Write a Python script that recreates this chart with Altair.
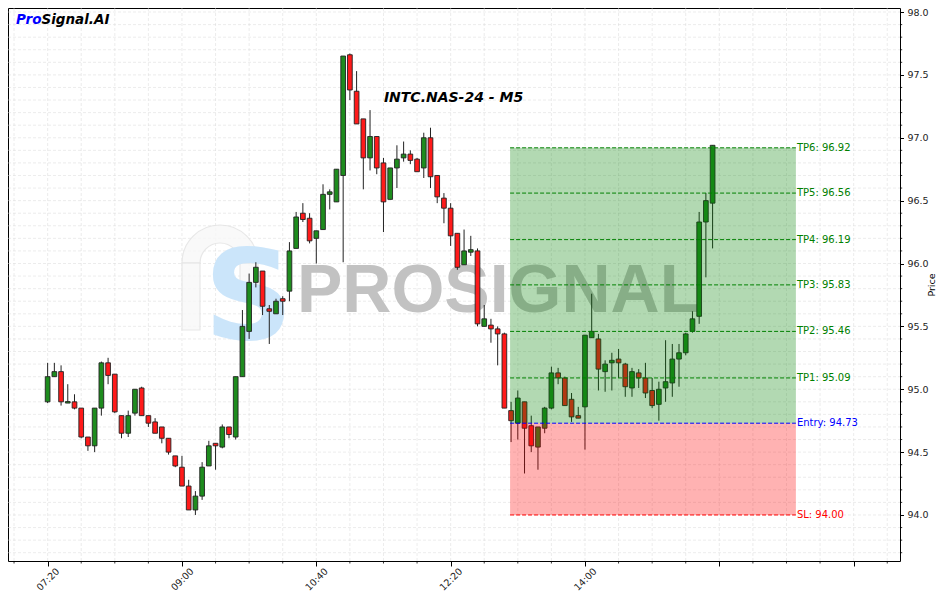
import json
import math
import altair as alt
import pandas as pd

# ---------------- data ----------------
opens = [94.90, 95.10, 95.14, 94.89, 94.90, 94.85, 94.62, 94.55, 94.85, 95.21,
         95.12, 94.79, 94.65, 94.81, 95.01, 94.79, 94.74, 94.70, 94.61, 94.47,
         94.38, 94.23, 94.04, 94.15, 94.39, 94.57, 94.54, 94.70, 94.62, 95.10,
         95.46, 95.85, 95.94, 95.64, 95.60, 95.72, 95.78, 96.12, 96.40, 96.36,
         96.20, 96.27, 96.55, 96.49, 96.70, 97.66, 97.37, 97.15, 96.84, 97.01,
         96.80, 96.51, 96.76, 96.84, 96.87, 96.83, 96.76, 97.00, 96.70, 96.52,
         96.44, 96.24, 95.99, 96.09, 96.10, 95.50, 95.51, 95.48, 95.44, 94.83,
         94.73, 94.90, 94.71, 94.54, 94.69, 94.85, 95.13, 95.09, 94.92, 94.79,
         94.86, 95.41, 95.40, 95.14, 95.21, 95.24, 95.20, 95.01, 95.13, 95.09,
         94.99, 94.88, 95.01, 95.05, 95.24, 95.29, 95.46, 95.58, 96.33, 96.48]
highs = [95.21, 95.21, 95.19, 95.04, 94.96, 94.85, 94.62, 94.85, 95.22, 95.25,
         95.12, 94.79, 94.83, 95.00, 95.02, 94.79, 94.77, 94.70, 94.61, 94.47,
         94.47, 94.28, 94.19, 94.42, 94.59, 94.57, 94.72, 94.70, 95.10, 95.63,
         95.92, 96.01, 95.94, 95.67, 95.72, 95.74, 96.17, 96.41, 96.48, 96.40,
         96.26, 96.63, 96.59, 96.75, 97.65, 97.67, 97.53, 97.15, 97.22, 97.01,
         96.84, 96.76, 96.94, 96.97, 96.90, 96.84, 97.04, 97.08, 96.70, 96.56,
         96.48, 96.24, 96.27, 96.22, 96.12, 95.67, 95.56, 95.50, 95.45, 94.90,
         94.99, 94.90, 94.79, 94.70, 94.86, 95.18, 95.17, 95.10, 94.97, 94.86,
         95.43, 95.76, 95.44, 95.23, 95.29, 95.32, 95.21, 95.17, 95.16, 95.21,
         95.09, 95.06, 95.39, 95.36, 95.36, 95.45, 95.62, 96.41, 96.56, 96.94]
lows = [94.89, 95.10, 94.87, 94.89, 94.84, 94.61, 94.51, 94.50, 94.79, 95.04,
        94.81, 94.61, 94.62, 94.79, 94.79, 94.70, 94.65, 94.57, 94.48, 94.38,
        94.23, 94.04, 94.00, 94.12, 94.39, 94.36, 94.53, 94.61, 94.60, 95.10,
        95.40, 95.81, 95.59, 95.36, 95.60, 95.59, 95.70, 96.12, 96.33, 96.16,
        96.00, 96.27, 96.43, 96.49, 96.01, 97.30, 97.11, 96.59, 96.74, 96.71,
        96.25, 96.51, 96.60, 96.81, 96.79, 96.73, 96.68, 96.60, 96.48, 96.32,
        96.14, 95.95, 95.99, 96.06, 95.50, 95.50, 95.37, 95.19, 94.85, 94.58,
        94.60, 94.33, 94.50, 94.36, 94.65, 94.84, 95.04, 94.87, 94.74, 94.77,
        94.52, 95.41, 94.99, 94.98, 94.99, 95.09, 94.94, 94.94, 95.01, 94.93,
        94.85, 94.75, 94.90, 94.94, 95.02, 95.27, 95.45, 95.52, 95.89, 96.12]
closes = [95.10, 95.14, 94.90, 94.90, 94.85, 94.62, 94.55, 94.85, 95.21, 95.11,
          94.82, 94.65, 94.79, 95.00, 94.79, 94.73, 94.65, 94.61, 94.50, 94.39,
          94.23, 94.04, 94.15, 94.38, 94.55, 94.55, 94.70, 94.64, 95.10, 95.50,
          95.85, 95.97, 95.66, 95.62, 95.70, 95.70, 96.10, 96.37, 96.35, 96.18,
          96.26, 96.55, 96.57, 96.75, 97.65, 97.38, 97.11, 96.84, 97.01, 96.76,
          96.49, 96.76, 96.83, 96.87, 96.82, 96.73, 97.00, 96.69, 96.53, 96.44,
          96.22, 95.97, 96.10, 96.11, 95.52, 95.56, 95.48, 95.44, 94.85, 94.75,
          94.93, 94.69, 94.55, 94.70, 94.85, 95.13, 95.09, 94.87, 94.78, 94.77,
          95.43, 95.46, 95.16, 95.20, 95.23, 95.21, 95.02, 95.14, 95.09, 94.97,
          94.87, 95.00, 95.06, 95.24, 95.29, 95.44, 95.56, 96.33, 96.50, 96.94]

x_tick_values = [0, 20, 40, 60, 80, 100, 120]
x_tick_labels = ["07:20", "09:00", "10:40", "12:20", "14:00", "", ""]
y_tick_values = [94.0, 94.5, 95.0, 95.5, 96.0, 96.5, 97.0, 97.5, 98.0]

level_names = ["TP6", "TP5", "TP4", "TP3", "TP2", "TP1", "Entry", "SL"]
level_prices = [96.92, 96.56, 96.19, 95.83, 95.46, 95.09, 94.73, 94.00]
level_colors = ["#008000", "#008000", "#008000", "#008000", "#008000", "#008000",
                "#0000ff", "#ff0000"]

zone_start = 68.85
zone_end = 111.4
entry_price = 94.73
tp_top = 96.92
sl_price = 94.00

x_domain = [-5.9, 126.9]
y_domain = [93.634, 98.032]

W, H = 892, 553
FONT = "DejaVu Sans"

# ---------------- tables ----------------
candles = pd.DataFrame({
    "idx": list(range(len(opens))),
    "open": opens, "high": highs, "low": lows, "close": closes,
})
candles["dir"] = ["up" if c >= o else "down" for o, c in zip(opens, closes)]

xs = alt.Scale(domain=x_domain, nice=False, zero=False)
ys = alt.Scale(domain=y_domain, nice=False, zero=False)

minor_x = [v for v in range(-5, 130, 5)]
minor_y = [round(93.7 + 0.1 * k, 1) for k in range(44)]

label_expr = "%s[round(datum.value/20)]" % json.dumps(x_tick_labels)

x_axis = alt.Axis(values=x_tick_values, labelExpr=label_expr, labelAngle=315,
                  labelAlign="center", labelBaseline="middle", labelPadding=13,
                  tickSize=5, grid=False, title=None, domain=False,
                  labelFontSize=9.5, labelFont=FONT, labelColor="#222", tickColor="#000")
y_axis = alt.Axis(values=y_tick_values, orient="right", format=".1f",
                  tickSize=3.5, labelPadding=3.5, grid=False, domain=False,
                  title="Price", titleAngle=270, titleFontSize=9.5,
                  titleFontWeight="normal", titleFont=FONT, titlePadding=8, titleColor="#000",
                  labelFontSize=9.5, labelFont=FONT, labelColor="#222", tickColor="#000")

grid_x = pd.DataFrame({"gx": minor_x, "gyref": [y_domain[0]] * len(minor_x), "gyref2": [y_domain[1]] * len(minor_x)})
grid_y = pd.DataFrame({"gy": minor_y, "gxref": [x_domain[0]] * len(minor_y), "gxref2": [x_domain[1]] * len(minor_y)})

gridx = alt.Chart(grid_x).mark_rule(color="#d8d8d8", strokeWidth=0.7, strokeDash=[3, 2], opacity=0.7).encode(
    x=alt.X("gx:Q", scale=xs, axis=x_axis),
    y=alt.Y("gyref:Q", scale=ys, axis=y_axis), y2="gyref2:Q",
)
gridy = alt.Chart(grid_y).mark_rule(color="#d8d8d8", strokeWidth=0.7, strokeDash=[3, 2], opacity=0.7).encode(
    y=alt.Y("gy:Q", scale=ys), x=alt.X("gxref:Q", scale=xs), x2="gxref2:Q",
)

# minor ticks outside the plot
minor_xt = alt.Chart(pd.DataFrame({"mx": [v for v in minor_x if v % 20 != 0]})).mark_rule(
    color="#000", strokeWidth=0.8).encode(
    x=alt.X("mx:Q", scale=xs), y=alt.value(H), y2=alt.value(H + 2.5))
minor_yt = alt.Chart(pd.DataFrame({"my": [v for v in minor_y if round(v * 10) % 5 != 0]})).mark_rule(
    color="#000", strokeWidth=0.8).encode(
    y=alt.Y("my:Q", scale=ys), x=alt.value(W), x2=alt.value(W + 2.2))

# watermark (logo arch + S + word)
one = pd.DataFrame({"k": [1]})
arch_style = dict(fill="#f8f8f8", stroke="#e4e4e4", strokeWidth=1.2, opacity=0.85)
wm_arch = alt.Chart(one).mark_arc(radius=38, radius2=20, theta=1.5 * math.pi, theta2=2.5 * math.pi,
                                  **arch_style).encode(x=alt.value(212), y=alt.value(255))
wm_leg_l = alt.Chart(one).mark_rect(**arch_style).encode(
    x=alt.value(174), x2=alt.value(192), y=alt.value(255), y2=alt.value(322))
wm_leg_r = alt.Chart(one).mark_rect(**arch_style).encode(
    x=alt.value(232), x2=alt.value(250), y=alt.value(255), y2=alt.value(285))
wm_logo = alt.Chart(pd.DataFrame({"t": ["S"]})).mark_text(
    font=FONT, fontWeight="bold", fontSize=124, color="#cbe5fa", align="left",
    baseline="alphabetic").encode(text="t:N", x=alt.value(196), y=alt.value(331))
wm_text = alt.Chart(pd.DataFrame({"t": ["PROSIGNAL"]})).mark_text(
    font="Liberation Sans", fontWeight="bold", fontSize=68, color="#c2c2c2", align="left",
    baseline="alphabetic").encode(text="t:N", x=alt.value(289), y=alt.value(304))

# candles
wicks = alt.Chart(candles).mark_rule(color="#222", strokeWidth=1).encode(
    x=alt.X("idx:Q", scale=xs),
    y=alt.Y("low:Q", scale=ys), y2="high:Q")
bodies = alt.Chart(candles).transform_calculate(
    x1="datum.idx - 0.35", x2="datum.idx + 0.35",
    b1="min(datum.open, datum.close)", b2="max(datum.open, datum.close, min(datum.open, datum.close) + 0.012)"
).mark_rect(stroke="#222", strokeWidth=0.9).encode(
    x=alt.X("x1:Q", scale=xs), x2="x2:Q",
    y=alt.Y("b1:Q", scale=ys), y2="b2:Q",
    fill=alt.Fill("dir:N", scale=alt.Scale(domain=["up", "down"], range=["#1e8c1e", "#ff1a1a"]), legend=None))

# trade zone
zones = pd.DataFrame({
    "zx1": [zone_start, zone_start], "zx2": [zone_end, zone_end],
    "zy1": [entry_price, sl_price], "zy2": [tp_top, entry_price],
    "kind": ["profit", "loss"],
})
zone_rects = alt.Chart(zones).mark_rect(opacity=0.3).encode(
    x=alt.X("zx1:Q", scale=xs), x2="zx2:Q",
    y=alt.Y("zy1:Q", scale=ys), y2="zy2:Q",
    fill=alt.Fill("kind:N", scale=alt.Scale(domain=["profit", "loss"], range=["#008000", "#ff0000"]), legend=None))

levels = pd.DataFrame({"name": level_names, "price": level_prices,
                       "lx1": [zone_start] * len(level_names), "lx2": [zone_end] * len(level_names)})
levels["label"] = [f"{n}: {p:.2f}" for n, p in zip(level_names, level_prices)]
lcol = alt.Color("name:N", scale=alt.Scale(domain=level_names, range=level_colors), legend=None)
level_lines = alt.Chart(levels).mark_rule(strokeWidth=1, strokeDash=[4, 2]).encode(
    x=alt.X("lx1:Q", scale=xs), x2="lx2:Q",
    y=alt.Y("price:Q", scale=ys), color=lcol)
level_text = alt.Chart(levels).mark_text(align="left", baseline="middle", dx=1, fontSize=10, font=FONT).encode(
    x=alt.X("lx2:Q", scale=xs), y=alt.Y("price:Q", scale=ys),
    text="label:N", color=lcol)

# titles
title = alt.Chart(pd.DataFrame({"t": ["INTC.NAS-24 - M5"]})).mark_text(
    font=FONT, fontSize=14, fontWeight="bold", fontStyle="italic", color="#000",
    align="center", baseline="alphabetic").encode(text="t:N", x=alt.value(445.5), y=alt.value(94))
brand1 = alt.Chart(pd.DataFrame({"t": ["Pro"]})).mark_text(
    font=FONT, fontSize=13.5, fontWeight="bold", fontStyle="italic", color="#0000ff",
    align="left", baseline="alphabetic").encode(text="t:N", x=alt.value(8), y=alt.value(16))
brand2 = alt.Chart(pd.DataFrame({"t": ["Signal.AI"]})).mark_text(
    font=FONT, fontSize=13.5, fontWeight="bold", fontStyle="italic", color="#000",
    align="left", baseline="alphabetic").encode(text="t:N", x=alt.value(33.5), y=alt.value(16))

chart = alt.layer(
    gridx, gridy, wm_arch, wm_leg_l, wm_leg_r, wm_logo, wm_text, wicks, bodies, zone_rects,
    level_lines, level_text, minor_xt, minor_yt, title, brand1, brand2
).resolve_scale(fill="independent", color="independent").properties(
    width=W, height=H,
    autosize=alt.AutoSizeParams(type="none"),
    padding={"left": 0, "top": 0, "right": 42, "bottom": 42},
).configure_view(stroke="#000", strokeWidth=1)

chart.save("out.html", embed_options={"renderer": "svg", "actions": False})
